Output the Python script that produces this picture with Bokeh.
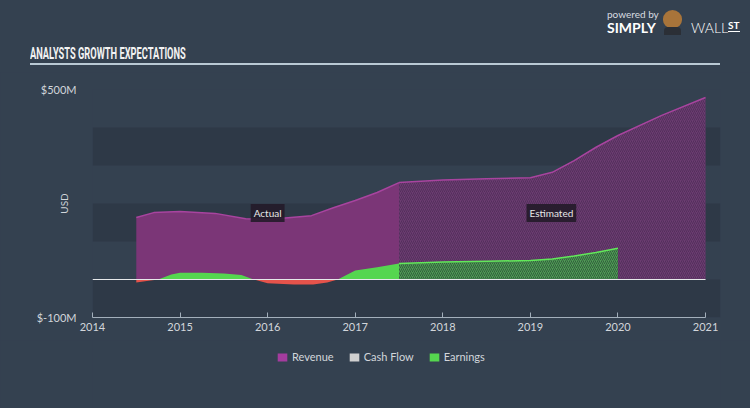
import numpy as np
from bokeh.plotting import figure
from bokeh.layouts import column
from bokeh.models import (Range1d, LinearAxis, FixedTicker, Label, BoxAnnotation,
                          Legend, LegendItem, Div)
from bokeh.embed import file_html
from bokeh.resources import INLINE

# ---------------- data ----------------
title_text = "ANALYSTS GROWTH EXPECTATIONS"
x_ticks = [2014, 2015, 2016, 2017, 2018, 2019, 2020, 2021]
y_ticks = [-100, 500]
y_tick_labels = ["$-100M", "$500M"]
legend_labels = ["Revenue", "Cash Flow", "Earnings"]
bands = [(-100, 0), (100, 200), (300, 400)]

rev_actual_t = [2014.5, 2014.7, 2015.0, 2015.4, 2015.75, 2016.0, 2016.5, 2016.75, 2017.0, 2017.25, 2017.5]
rev_actual_v = [163, 176, 179, 174, 160, 158, 168, 189, 208, 229, 255]
rev_est_t = [2017.5, 2018.0, 2018.5, 2019.0, 2019.25, 2019.5, 2019.75, 2020.0, 2020.5, 2021.0]
rev_est_v = [255, 262, 265, 268, 282, 313, 348, 379, 432, 479]

earn_actual_t = [2014.5, 2014.62, 2014.75, 2014.9, 2015.0, 2015.25, 2015.5, 2015.7, 2015.84,
                 2016.0, 2016.3, 2016.52, 2016.68, 2016.8, 2017.0, 2017.25, 2017.5]
earn_actual_v = [-8, -4, 0, 13, 18, 18, 16, 12, 0, -10, -13, -13, -8, 0, 24, 32, 42]
earn_est_t = [2017.5, 2018.0, 2018.5, 2019.0, 2019.25, 2019.5, 2019.75, 2020.0]
earn_est_v = [42, 46, 48, 50, 54, 62, 71, 82]

cash_t = rev_actual_t            # no cash-flow figures are shown
cash_v = [np.nan] * len(cash_t)

# ---------------- style ----------------
BG = "#344150"
BAND = "#2e3947"
TEXT = "#d2d6db"
FONT = "Lato"
REV = "#7b3677"
REV_SWATCH = "#a43c9e"
REV_LINE = "#a8449f"
REV_EST = "#6b3c70"
REV_HATCH = "#4e2c57"
GREEN = "#55d64f"
GREEN_LINE = "#62e85a"
GREEN_EST = "#4f9a55"
GREEN_HATCH = "#2f5a3a"
RED = "#e5534b"
CASH = "#d0d0d0"
W = 750
BGSTYLE = {"background-color": BG}

# ---------------- header (title, rule, logo) ----------------
H_HEAD = 72
head_html = f"""
<div style="position:relative;width:{W}px;height:{H_HEAD}px;background:{BG};font-family:Lato,sans-serif;">
 <div style="position:absolute;left:30px;top:46px;font-family:Roboto,sans-serif;font-weight:700;
      font-size:16px;line-height:16px;color:#f2f2f2;white-space:nowrap;
      transform:scaleX(0.58);transform-origin:0 0;">{title_text}</div>
 <div style="position:absolute;left:30px;top:63px;width:690px;height:2px;background:#b9c9d4;"></div>
 <div style="position:absolute;left:607px;top:9px;font-size:10px;line-height:10px;color:#d8dce0;">powered by</div>
 <div style="position:absolute;left:607px;top:21px;font-size:14px;line-height:14px;font-weight:700;color:#ffffff;">SIMPLY</div>
 <div style="position:absolute;left:663px;top:10px;width:19px;height:18px;border-radius:50% 50% 45% 45%;background:#a8743a;"></div>
 <div style="position:absolute;left:664px;top:27px;width:17px;height:8px;border-radius:4px 4px 0 0;background:#2b2f36;"></div>
 <div style="position:absolute;left:691px;top:21px;font-size:14px;line-height:14px;font-weight:300;color:#ffffff;">WALL</div>
 <div style="position:absolute;left:728px;top:20px;font-size:10px;line-height:11px;font-weight:700;color:#ffffff;border-bottom:1px solid #ffffff;">ST</div>
</div>
"""
head = Div(text=head_html, width=W, height=H_HEAD, margin=0, styles=BGSTYLE)

# ---------------- main chart ----------------
H_MAIN = 268
p = figure(width=W, height=H_MAIN, output_backend="svg", toolbar_location=None,
           x_range=Range1d(2014, 2021.171), y_range=Range1d(-100, 500),
           x_axis_type=None, y_axis_type=None,
           min_border_left=92, min_border_right=30, min_border_top=17, min_border_bottom=23,
           background_fill_color=BG, border_fill_color=BG, outline_line_color=None,
           styles=BGSTYLE)

for lo, hi in bands:
    p.add_layout(BoxAnnotation(bottom=lo, top=hi, fill_color=BAND, fill_alpha=1,
                               line_color=None, level="underlay"))

ra = np.array(rev_actual_v, dtype=float)
re_ = np.array(rev_est_v, dtype=float)
p.varea(x=rev_actual_t, y1=np.zeros_like(ra), y2=ra, fill_color=REV)
p.varea(x=rev_est_t, y1=np.zeros_like(re_), y2=re_, fill_color=REV_EST,
        hatch_pattern="/", hatch_color=REV_HATCH, hatch_scale=4, hatch_weight=1, hatch_alpha=0.8)
p.line(rev_actual_t, rev_actual_v, line_color=REV_LINE, line_width=1.5)
p.line(rev_est_t, rev_est_v, line_color=REV_LINE, line_width=1.5)

ea = np.array(earn_actual_v, dtype=float)
ee = np.array(earn_est_v, dtype=float)
p.varea(x=earn_actual_t, y1=np.zeros_like(ea), y2=np.maximum(ea, 0), fill_color=GREEN)
p.varea(x=earn_actual_t, y1=np.minimum(ea, 0), y2=np.zeros_like(ea), fill_color=RED)
p.varea(x=earn_est_t, y1=np.zeros_like(ee), y2=ee, fill_color=GREEN_EST,
        hatch_pattern="/", hatch_color=GREEN_HATCH, hatch_scale=4, hatch_weight=1, hatch_alpha=0.9)
p.line(earn_est_t, earn_est_v, line_color=GREEN_LINE, line_width=1.5)

p.line([x_ticks[0], x_ticks[-1]], [0, 0], line_color="#e6e8ea", line_width=1.2)

xaxis = LinearAxis(ticker=FixedTicker(ticks=x_ticks), bounds=(x_ticks[0], x_ticks[-1]),
                   axis_line_color="#a3afbb", axis_line_width=1,
                   major_tick_line_color="#a3afbb", major_tick_in=5, major_tick_out=0,
                   minor_tick_line_color=None, major_label_standoff=5,
                   major_label_text_color=TEXT, major_label_text_font=FONT,
                   major_label_text_font_size="11px")
p.add_layout(xaxis, "below")

yaxis = LinearAxis(ticker=FixedTicker(ticks=y_ticks),
                   major_label_overrides={t: l for t, l in zip(y_ticks, y_tick_labels)},
                   axis_line_color=None, major_tick_line_color=None, minor_tick_line_color=None,
                   major_label_standoff=10, major_label_text_color=TEXT,
                   major_label_text_font=FONT, major_label_text_font_size="11px",
                   axis_label="USD", axis_label_standoff=-36, axis_label_text_color=TEXT,
                   axis_label_text_font=FONT, axis_label_text_font_size="10px",
                   axis_label_text_font_style="normal")
p.add_layout(yaxis, "left")

p.add_layout(Label(x=2016.0, y=175, text="Actual", text_align="center", text_baseline="middle",
                   text_color="#e8e8e8", text_font=FONT, text_font_size="10px",
                   background_fill_color="#231b29", background_fill_alpha=0.9, padding=3))
p.add_layout(Label(x=2019.24, y=175, text="Estimated", text_align="center", text_baseline="middle",
                   text_color="#e8e8e8", text_font=FONT, text_font_size="10px",
                   background_fill_color="#231b29", background_fill_alpha=0.9, padding=3))

# ---------------- footer legend ----------------
H_FOOT = 408 - H_HEAD - H_MAIN
foot = figure(width=W, height=H_FOOT, output_backend="svg", toolbar_location=None,
              x_range=Range1d(2014, 2021.171), y_range=Range1d(-100, 500),
              x_axis_type=None, y_axis_type=None,
              min_border_left=92, min_border_right=30, min_border_top=0, min_border_bottom=0,
              background_fill_color=BG, border_fill_color=BG, outline_line_color=None,
              styles=BGSTYLE)
lr_rev = foot.varea(x=rev_actual_t, y1=np.zeros_like(ra), y2=ra, fill_color=REV_SWATCH, visible=False)
lr_cash = foot.varea(x=cash_t, y1=np.zeros(len(cash_t)), y2=cash_v, fill_color=CASH, visible=False)
lr_earn = foot.varea(x=earn_actual_t, y1=np.zeros_like(ea), y2=np.maximum(ea, 0), fill_color=GREEN, visible=False)
items = [LegendItem(label=legend_labels[0], renderers=[lr_rev]),
         LegendItem(label=legend_labels[1], renderers=[lr_cash]),
         LegendItem(label=legend_labels[2], renderers=[lr_earn])]
foot.add_layout(Legend(items=items, orientation="horizontal", location=(184, 45),
                       background_fill_alpha=0, border_line_alpha=0,
                       label_text_color=TEXT, label_text_font=FONT, label_text_font_size="11px",
                       glyph_width=12, glyph_height=10, label_standoff=4, spacing=14,
                       padding=0, margin=0, label_height=12,
                       inactive_fill_alpha=0), "center")

layout = column(head, p, foot, spacing=0, styles=BGSTYLE)
open("out.html", "w").write(file_html(layout, INLINE))
